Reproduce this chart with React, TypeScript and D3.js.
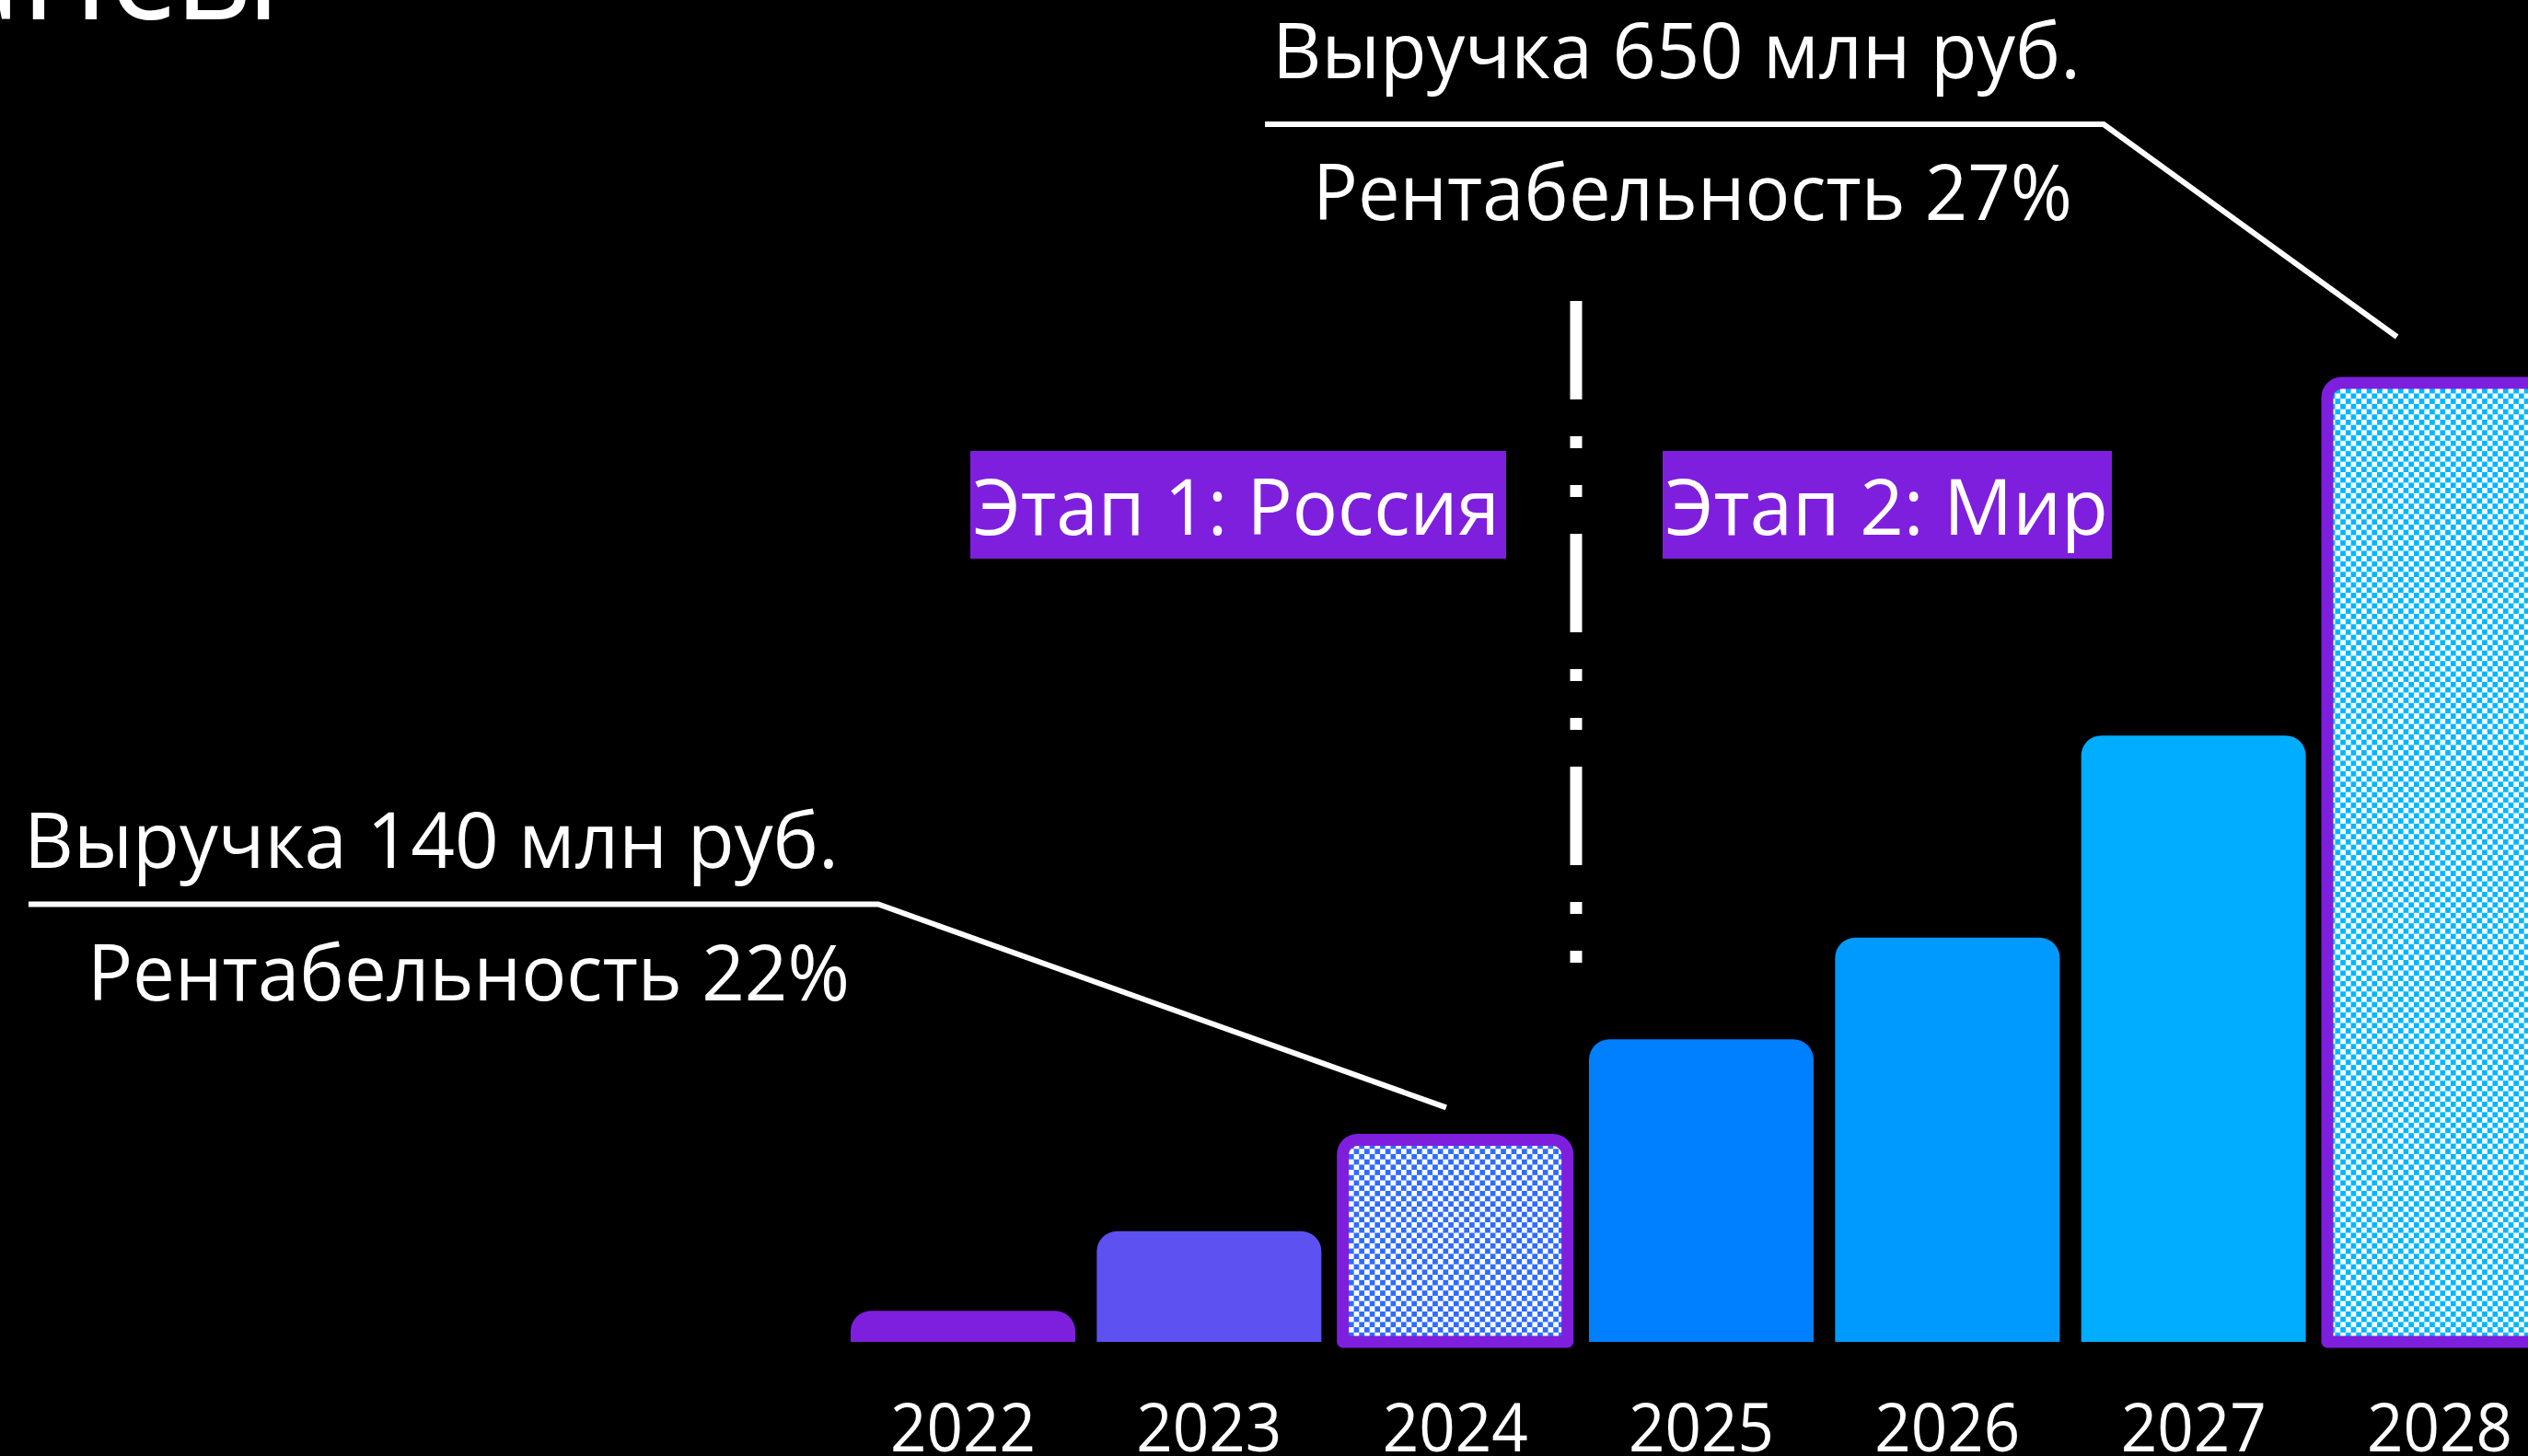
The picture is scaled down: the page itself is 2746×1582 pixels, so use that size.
import React from "react";
import * as d3 from "d3";

const W = 2746;
const H = 1582;

// ---- data ----
const years = ["2022", "2023", "2024", "2025", "2026", "2027", "2028"];
const revenue = [21, 75, 137, 205, 274, 411, 650];
const highlighted = ["2024", "2028"];
const stageLabels = ["Этап 1: Россия", "Этап 2: Мир"];
const revenueNotes = ["Выручка 140 млн руб.", "Выручка 650 млн руб."];
const marginNotes = ["Рентабельность 22%", "Рентабельность 27%"];
const titleText = "Финансы";

// ---- style ----
const FONT = "'Open Sans', 'Noto Sans', sans-serif";
const PURPLE = "#7E1FDE";
const fills: Record<string, string> = {
  "2022": PURPLE,
  "2023": "#5E51F2",
  "2024": "url(#chkBlue)",
  "2025": "#0080FF",
  "2026": "#009AFF",
  "2027": "#00ADFF",
  "2028": "url(#chkCyan)",
};

function topRounded(x0: number, y0: number, w: number, h: number, r: number) {
  const rr = Math.min(r, h, w / 2);
  return `M${x0},${y0 + h} V${y0 + rr} A${rr},${rr} 0 0 1 ${x0 + rr},${y0} H${x0 + w - rr} A${rr},${rr} 0 0 1 ${x0 + w},${y0 + rr} V${y0 + h} Z`;
}

export default function App() {
  const x = d3
    .scaleBand<string>()
    .domain(years)
    .range([912.33, 2783.67])
    .paddingInner(0.0873)
    .paddingOuter(0.04365);
  const y = d3.scaleLinear().domain([0, 650]).range([1458, 416]);
  const bw = x.bandwidth();
  const base = y(0);

  const cell = 5.7;

  const dividerX = (x("2025") as number) - 14;

  // leader lines
  const v24 = revenue[years.indexOf("2024")];
  const v28 = revenue[years.indexOf("2028")];
  const leftLeader: [number, number][] = [
    [31, 982.5],
    [954, 982.5],
    [(x("2024") as number) + bw * 0.46, y(v24) - 35],
  ];
  const rightLeader: [number, number][] = [
    [1374, 135],
    [2285, 135],
    [(x("2028") as number) + bw * 0.31, y(v28) - 50],
  ];
  const line = d3.line();

  return (
    <div style={{ position: "fixed", left: 0, top: 0, width: W, height: H, background: "#000", overflow: "hidden" }}>
      <svg width={W} height={H} style={{ display: "block" }} fontFamily={FONT}>
        <defs>
          <pattern id="chkBlue" patternUnits="userSpaceOnUse" width={cell * 2} height={cell * 2}>
            <rect width={cell * 2} height={cell * 2} fill="#2E6BFF" />
            <rect width={cell} height={cell} fill="#ffffff" />
            <rect x={cell} y={cell} width={cell} height={cell} fill="#ffffff" />
          </pattern>
          <pattern id="chkCyan" patternUnits="userSpaceOnUse" width={cell * 2} height={cell * 2}>
            <rect width={cell * 2} height={cell * 2} fill="#00B6FF" />
            <rect width={cell} height={cell} fill="#ffffff" />
            <rect x={cell} y={cell} width={cell} height={cell} fill="#ffffff" />
          </pattern>
        </defs>
        <rect width={W} height={H} fill="#000" />

        {/* cut-off title */}
        <text x={305} y={21} textAnchor="end" fontSize={150} fill="#fff">
          {titleText}
        </text>

        {/* bars */}
        {years.map((yr, i) => {
          const x0 = x(yr) as number;
          const y0 = y(revenue[i]);
          const h = base - y0;
          const hl = highlighted.includes(yr);
          return hl ? (
            <path
              key={yr}
              d={topRounded(x0, y0, bw, h, 16)}
              fill={fills[yr]}
              stroke={PURPLE}
              strokeWidth={13}
              strokeLinejoin="round"
            />
          ) : (
            <path key={yr} d={topRounded(x0, y0, bw, h, 22)} fill={fills[yr]} />
          );
        })}

        {/* year labels */}
        {years.map((yr) => (
          <text
            key={"l" + yr}
            x={(x(yr) as number) + bw / 2}
            y={1577}
            textAnchor="middle"
            fontSize={73}
            fill="#fff"
            textLength={158}
            lengthAdjust="spacingAndGlyphs"
          >
            {yr}
          </text>
        ))}

        {/* divider */}
        <line
          x1={dividerX}
          x2={dividerX}
          y1={327}
          y2={1046}
          stroke="#fff"
          strokeWidth={13}
          strokeDasharray="107 40 13 40 13 40"
        />

        {/* stage labels */}
        <rect x={1054} y={490} width={582} height={117} fill={PURPLE} />
        <text x={1057} y={581} fontSize={84} fill="#fff" textLength={572} lengthAdjust="spacingAndGlyphs">
          {stageLabels[0]}
        </text>
        <rect x={1806} y={490} width={488} height={117} fill={PURPLE} />
        <text x={1809} y={581} fontSize={84} fill="#fff" textLength={481} lengthAdjust="spacingAndGlyphs">
          {stageLabels[1]}
        </text>

        {/* annotations */}
        <text x={1382} y={85} fontSize={84} fill="#fff" textLength={878} lengthAdjust="spacingAndGlyphs">
          {revenueNotes[1]}
        </text>
        <text x={1426} y={239} fontSize={84} fill="#fff" textLength={825} lengthAdjust="spacingAndGlyphs">
          {marginNotes[1]}
        </text>
        <path d={line(rightLeader) || ""} fill="none" stroke="#fff" strokeWidth={6} />

        <text x={26} y={943} fontSize={84} fill="#fff" textLength={885} lengthAdjust="spacingAndGlyphs">
          {revenueNotes[0]}
        </text>
        <text x={95} y={1087} fontSize={84} fill="#fff" textLength={828} lengthAdjust="spacingAndGlyphs">
          {marginNotes[0]}
        </text>
        <path d={line(leftLeader) || ""} fill="none" stroke="#fff" strokeWidth={6} />
      </svg>
    </div>
  );
}
